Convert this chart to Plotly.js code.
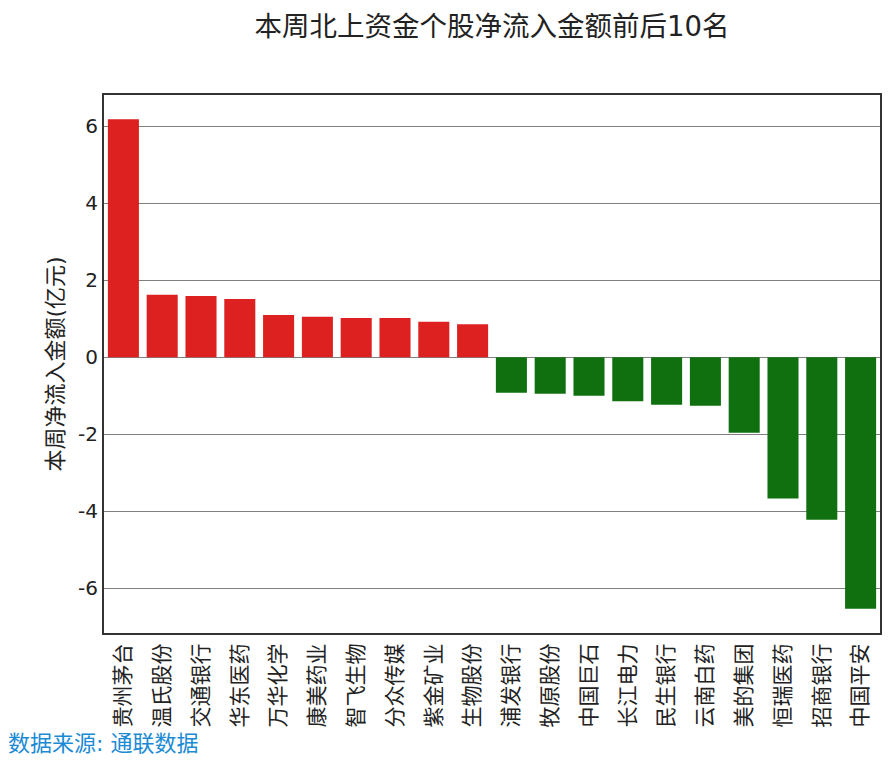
<!DOCTYPE html>
<html>
<head>
<meta charset="utf-8">
<script src="https://cdn.plot.ly/plotly-3.0.1.min.js"></script>
<style>html,body{margin:0;padding:0;background:#fff;}#chart{width:890px;height:765px;}</style>
</head>
<body>
<div id="chart"></div>
<script>
const stocks = ['贵州茅台','温氏股份','交通银行','华东医药','万华化学','康美药业','智飞生物','分众传媒','紫金矿业','生物股份',
                '浦发银行','牧原股份','中国巨石','长江电力','民生银行','云南白药','美的集团','恒瑞医药','招商银行','中国平安'];
const netInflow = [6.18, 1.62, 1.59, 1.51, 1.10, 1.05, 1.02, 1.02, 0.92, 0.86,
                   -0.92, -0.95, -1.00, -1.14, -1.23, -1.26, -1.96, -3.67, -4.22, -6.53];
const yTicks = [-6, -4, -2, 0, 2, 4, 6];

const font = '"DejaVu Sans", "Noto Sans CJK SC", sans-serif';
const colors = netInflow.map(v => v >= 0 ? '#dd2020' : '#107010');

const trace = {
  type: 'bar',
  x: stocks,
  y: netInflow,
  marker: {color: colors, line: {width: 0}},
  hoverinfo: 'x+y'
};

const layout = {
  width: 890, height: 765,
  margin: {l: 104, r: 10, t: 95, b: 132},
  paper_bgcolor: '#ffffff', plot_bgcolor: '#ffffff',
  font: {family: font, color: '#333333', size: 20},
  title: {text: '本周北上资金个股净流入金额前后10名', font: {family: font, size: 27.5, color: '#222222'},
          xref: 'paper', x: 0.5, xanchor: 'center', y: 0.966, yanchor: 'middle'},
  bargap: 0.2,
  showlegend: false,
  xaxis: {
    type: 'category', range: [-0.5, 19.5],
    tickangle: -90, tickfont: {size: 21, color: '#222222', family: font},
    showgrid: false, zeroline: false, ticks: '',
    showline: true, mirror: true, linecolor: '#333333', linewidth: 2
  },
  yaxis: {
    range: [-7.16, 6.81],
    tickvals: yTicks, ticktext: yTicks.map(String),
    tickfont: {size: 20, color: '#222222', family: font},
    showgrid: true, gridcolor: '#808080', gridwidth: 1,
    zeroline: false, ticks: '',
    showline: true, mirror: true, linecolor: '#333333', linewidth: 2,
    title: {text: '本周净流入金额(亿元)', font: {size: 22, color: '#222222', family: font}, standoff: 8}
  },
  annotations: [{
    text: '数据来源: 通联数据', xref: 'paper', yref: 'paper',
    x: -0.126, y: -0.205, xanchor: 'left', yanchor: 'middle', showarrow: false,
    font: {size: 22, color: '#1a8ad4', family: font}
  }]
};

Plotly.newPlot('chart', [trace], layout, {displayModeBar: false, staticPlot: true});
</script>
</body>
</html>
